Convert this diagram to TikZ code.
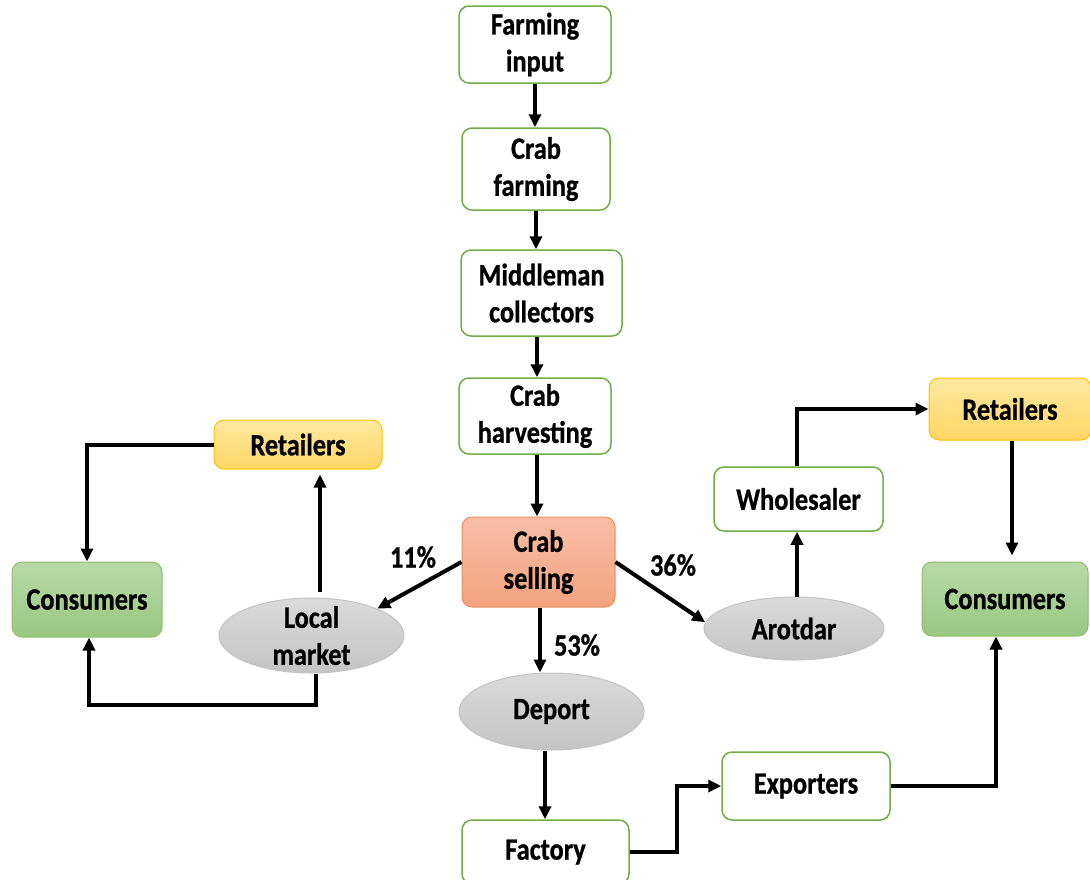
\documentclass[tikz,border=0pt]{standalone}
\usepackage{fontspec}
\setmainfont{Carlito}[FakeStretch=0.85,FakeBold=0.8]
\usetikzlibrary{arrows.meta,shapes.geometric}
\definecolor{bgreen}{RGB}{112,173,71}
\definecolor{rtop}{RGB}{255,232,160}
\definecolor{rbot}{RGB}{255,214,100}
\definecolor{rborder}{RGB}{255,192,0}
\definecolor{ctop}{RGB}{184,217,168}
\definecolor{cbot}{RGB}{152,200,128}
\definecolor{stop}{RGB}{247,190,166}
\definecolor{sbot}{RGB}{244,162,126}
\definecolor{sborder}{RGB}{238,140,95}
\definecolor{etop}{RGB}{218,218,218}
\definecolor{ebot}{RGB}{196,196,196}
\definecolor{eborder}{RGB}{195,195,195}
\tikzset{
  txt/.style={font=\fontsize{31}{37}\selectfont\bfseries, align=center, inner sep=0pt},
  wbox/.style={txt, draw=bgreen, line width=1.5pt, rounded corners=10pt, fill=white},
  retbox/.style={txt, draw=rborder, line width=1pt, rounded corners=10pt, top color=rtop, bottom color=rbot},
  conbox/.style={txt, draw=bgreen!80, line width=1pt, rounded corners=10pt, top color=ctop, bottom color=cbot},
  selbox/.style={txt, draw=sborder, line width=1pt, rounded corners=10pt, top color=stop, bottom color=sbot},
  oval/.style={txt, ellipse, inner ysep=-14pt, draw=eborder, line width=1pt, top color=etop, bottom color=ebot},
  arr/.style={line width=4pt, -{Triangle[length=13pt,width=12pt]}},
  pct/.style={txt}
}
\begin{document}
\begin{tikzpicture}[x=1pt,y=-1pt]
\useasboundingbox (0,0) rectangle (1090,879);
\node[wbox, minimum width=152, minimum height=77] (fi) at (535,44.5) {Farming\\input};
\node[wbox, minimum width=148, minimum height=82] (cf) at (536,169) {Crab\\farming};
\node[wbox, minimum width=161, minimum height=86] (mc) at (541.5,293) {Middleman\\collectors};
\node[wbox, minimum width=152, minimum height=76] (ch) at (535,416) {Crab\\harvesting};
\node[selbox, minimum width=153, minimum height=90] (cs) at (538.5,562) {Crab\\selling};
\node[oval, minimum width=185, minimum height=75] (lm) at (311.5,635.5) {Local\\market};
\node[oval, minimum width=185, minimum height=77] (dp) at (551.5,711.5) {Deport};
\node[oval, minimum width=180, minimum height=63] (ar) at (794,628.5) {Arotdar};
\node[wbox, minimum width=169, minimum height=64] (wh) at (798.5,499) {Wholesaler};
\node[retbox, minimum width=162, minimum height=62] (rr) at (1010,409) {Retailers};
\node[conbox, minimum width=166, minimum height=74] (cr) at (1005,599) {Consumers};
\node[retbox, minimum width=168, minimum height=49] (rl) at (298,444.5) {Retailers};
\node[conbox, minimum width=150, minimum height=75] (cl) at (87,599.5) {Consumers};
\node[wbox, minimum width=168, minimum height=68] (ex) at (806,786) {Exporters};
\node[wbox, minimum width=167, minimum height=64] (fa) at (545.5,852) {Factory};
\node[pct] (p11) at (413,557) {11\%};
\node[pct] (p36) at (673,565) {36\%};
\node[pct] (p53) at (577,645) {53\%};
% vertical chain
\draw[arr] (fi.south) -- (fi.south |- cf.north);
\draw[arr] (cf.south) -- (cf.south |- mc.north);
\draw[arr] ([xshift=-4.5]mc.south) -- ([xshift=-4.5]mc.south |- ch.north);
\draw[arr] ([xshift=2]ch.south) -- ([xshift=2]ch.south |- cs.north);
% from crab selling
\draw[arr] (cs.west) -- (lm.north east);
\draw[arr] (cs.east) -- (ar.176);
\draw[arr] ([xshift=1.5]cs.south) -- ([xshift=1.5]cs.south |- dp.north);
% left side
\draw[arr, shorten <=6pt, shorten >=5pt] ([xshift=8.5]lm.north) -- ([xshift=8.5]lm.north |- rl.south);
\draw[arr] (rl.west) -| (cl.north);
\draw[arr] ([xshift=4.5]lm.south) -- ++(0,31) -| ([xshift=2]cl.south);
% right side
\draw[arr] ([xshift=3]ar.north) -- ([xshift=3]ar.north |- wh.south);
\draw[arr] ([xshift=-1.5]wh.north) |- (rr.west);
\draw[arr, shorten >=6pt] ([xshift=2]rr.south) -- ([xshift=2]rr.south |- cr.north);
\draw[arr] (ex.east) -| ([xshift=-9]cr.south);
% bottom
\draw[arr] ([xshift=-6.5]dp.south) -- ([xshift=-6.5]dp.south |- fa.north);
\draw[arr] (fa.east) -| (677,786) -- (ex.west);
\end{tikzpicture}
\end{document}
